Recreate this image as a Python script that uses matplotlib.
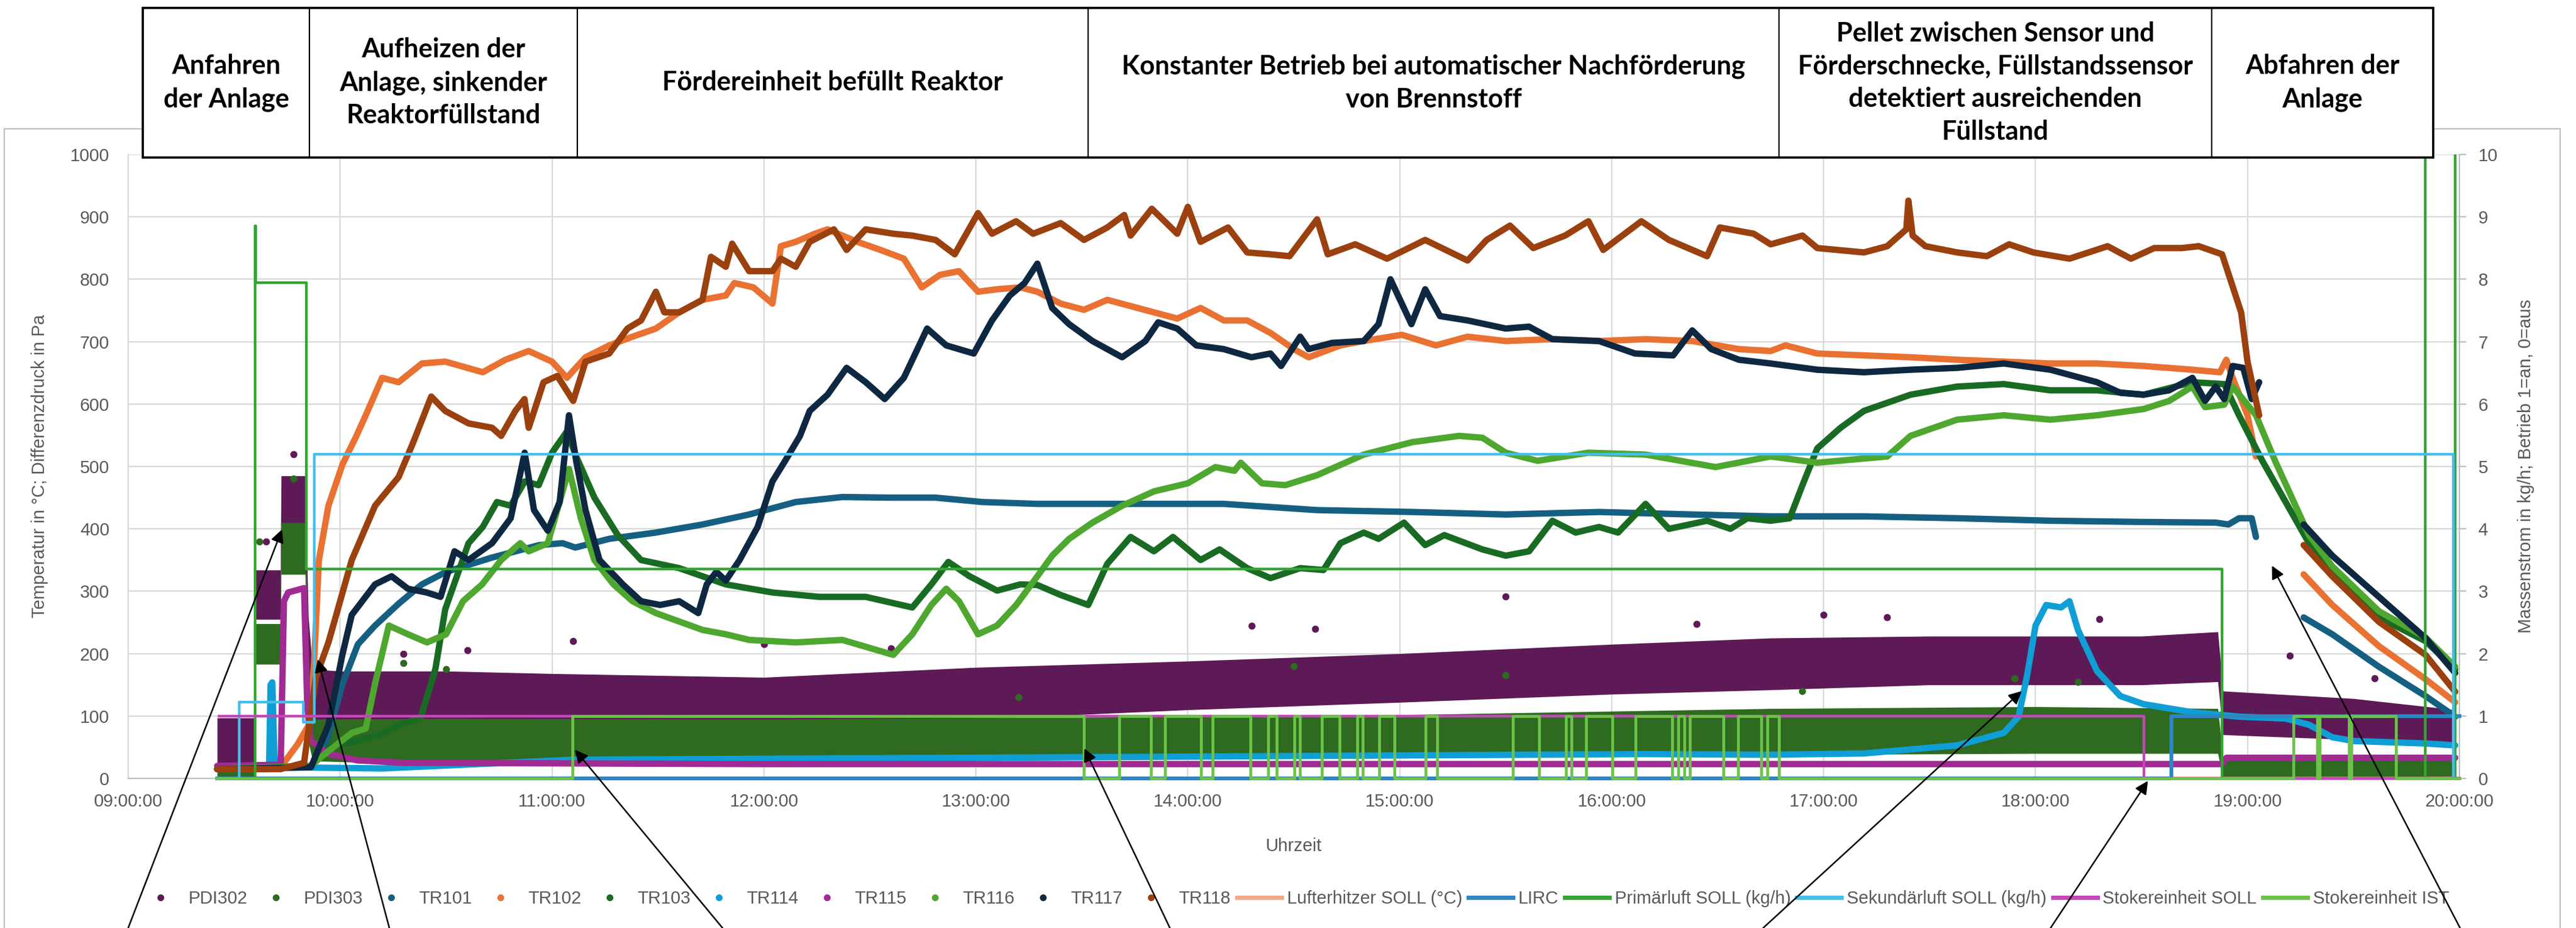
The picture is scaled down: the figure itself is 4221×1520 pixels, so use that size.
import numpy as np
import matplotlib
matplotlib.use('Agg')
import matplotlib.pyplot as plt
import matplotlib.transforms as mtransforms
from matplotlib.lines import Line2D
from matplotlib.patches import Rectangle

plt.rcParams['font.family'] = ['Liberation Sans', 'DejaVu Sans']
nan = float('nan')

# ---- Daten (Uhrzeit in Stunden, Wert) ----
tr101 = [(9.42, 15), (9.86, 18), (9.937, 61), (10.01, 150), (10.084, 215), (10.165, 245), (10.276, 280),
         (10.386, 311), (10.5, 331), (10.717, 354), (10.94, 374), (11.05, 377), (11.11, 370), (11.27, 384),
         (11.49, 394), (11.71, 407), (11.93, 423), (12.15, 443), (12.37, 451), (12.59, 450), (12.81, 450),
         (13.03, 443), (13.29, 440), (13.73, 440), (14.17, 440), (14.61, 430), (15.06, 427), (15.5, 423),
         (15.94, 427), (16.38, 423), (16.75, 420), (17.19, 420), (17.63, 417), (18.07, 413), (18.51, 411),
         (18.85, 410), (18.91, 407), (18.96, 417), (19.02, 417), (19.04, 387), (19.16, nan),
         (19.265, 258), (19.4, 231), (19.62, 179), (19.84, 132), (19.98, 99)]

tr102 = [(9.72, 18), (9.8, 55), (9.86, 90), (9.878, 190), (9.9, 350), (9.945, 437), (10.011, 503),
         (10.077, 549), (10.121, 582), (10.198, 642), (10.276, 635), (10.386, 665), (10.496, 668),
         (10.673, 651), (10.78, 671), (10.89, 685), (11.0, 668), (11.07, 642), (11.158, 675), (11.27, 694),
         (11.38, 708), (11.49, 721), (11.6, 747), (11.71, 767), (11.82, 774), (11.86, 794), (11.95, 787),
         (12.04, 761), (12.08, 853), (12.15, 860), (12.24, 873), (12.3, 880), (12.44, 860), (12.55, 847),
         (12.66, 833), (12.745, 787), (12.83, 807), (12.92, 813), (13.01, 780), (13.1, 784), (13.21, 787),
         (13.29, 780), (13.4, 761), (13.51, 751), (13.62, 767), (13.73, 757), (13.84, 747), (13.95, 737),
         (14.06, 754), (14.17, 734), (14.28, 734), (14.39, 714), (14.5, 688), (14.57, 675), (14.72, 694),
         (14.83, 701), (15.01, 711), (15.17, 694), (15.32, 708), (15.5, 701), (15.72, 704), (15.94, 701),
         (16.16, 704), (16.38, 701), (16.6, 688), (16.75, 685), (16.82, 694), (16.97, 681), (17.19, 678),
         (17.41, 675), (17.63, 671), (17.85, 668), (18.07, 665), (18.29, 665), (18.51, 661), (18.74, 655),
         (18.87, 651), (18.9, 671), (18.93, 642), (19.0, 582), (19.04, 516), (19.16, nan),
         (19.265, 327), (19.4, 278), (19.62, 212), (19.84, 159), (19.98, 122)]

tr103 = [(9.42, 15), (9.86, 20), (9.95, 50), (10.1, 62), (10.2, 72), (10.3, 88), (10.38, 97), (10.45, 176),
         (10.496, 271), (10.606, 377), (10.673, 403), (10.74, 443), (10.805, 437), (10.871, 476),
         (10.937, 470), (11.0, 522), (11.07, 556), (11.114, 516), (11.2, 450), (11.31, 390), (11.42, 350),
         (11.6, 337), (11.71, 324), (11.82, 311), (12.04, 298), (12.26, 291), (12.48, 291), (12.7, 274),
         (12.79, 311), (12.87, 347), (12.97, 324), (13.1, 301), (13.21, 311), (13.29, 310), (13.4, 294),
         (13.53, 278), (13.62, 344), (13.73, 387), (13.84, 364), (13.93, 387), (14.06, 350), (14.15, 367),
         (14.28, 337), (14.39, 321), (14.53, 337), (14.64, 334), (14.72, 377), (14.83, 394), (14.9, 384),
         (15.02, 410), (15.12, 374), (15.21, 390), (15.39, 367), (15.5, 357), (15.61, 364), (15.72, 413),
         (15.83, 394), (15.94, 403), (16.03, 394), (16.16, 440), (16.27, 400), (16.45, 413), (16.56, 400),
         (16.64, 417), (16.75, 413), (16.84, 417), (16.9, 470), (16.97, 529), (17.08, 562), (17.19, 589),
         (17.3, 602), (17.41, 615), (17.63, 628), (17.85, 632), (18.07, 622), (18.29, 622), (18.51, 615),
         (18.74, 635), (18.89, 632), (18.96, 582), (19.07, 509), (19.18, 443), (19.29, 377), (19.4, 331),
         (19.62, 258), (19.84, 220), (19.98, 175)]

tr114 = [(9.42, 15), (9.665, 15), (9.672, 150), (9.68, 154), (9.69, 35), (9.70, 18), (10.2, 16), (11.1, 30),
         (13.5, 34), (16.15, 39), (16.75, 38), (17.19, 40), (17.63, 53), (17.85, 73), (17.92, 99),
         (17.96, 165), (18.0, 245), (18.05, 278), (18.12, 274), (18.16, 284), (18.2, 238), (18.29, 172),
         (18.4, 132), (18.51, 119), (18.74, 106), (18.96, 99), (19.18, 96), (19.29, 86), (19.4, 66),
         (19.5, 60), (19.84, 56), (19.98, 53)]

tr115 = [(9.42, 20), (9.72, 22), (9.735, 284), (9.755, 298), (9.83, 305), (9.845, 118), (9.86, 61),
         (9.94, 40), (10.08, 29), (10.3, 25), (12.0, 23), (18.88, 23), (18.9, 33), (19.98, 33)]

tr116 = [(9.42, 15), (9.86, 20), (9.95, 45), (10.055, 73), (10.121, 80), (10.165, 152), (10.23, 245),
         (10.32, 231), (10.41, 218), (10.5, 231), (10.58, 284), (10.67, 311), (10.76, 350), (10.85, 377),
         (10.89, 364), (10.98, 377), (11.08, 496), (11.136, 417), (11.2, 350), (11.29, 311), (11.38, 284),
         (11.49, 265), (11.71, 238), (11.82, 231), (11.93, 222), (12.15, 218), (12.37, 222), (12.61, 198),
         (12.7, 231), (12.79, 278), (12.86, 304), (12.92, 284), (13.01, 231), (13.1, 245), (13.19, 278),
         (13.29, 324), (13.36, 357), (13.44, 384), (13.55, 410), (13.69, 437), (13.84, 460), (14.0, 473),
         (14.13, 499), (14.22, 493), (14.25, 506), (14.35, 473), (14.46, 470), (14.61, 486), (14.83, 519),
         (15.06, 539), (15.28, 549), (15.39, 546), (15.5, 522), (15.65, 509), (15.89, 522), (16.16, 519),
         (16.49, 499), (16.75, 516), (16.97, 506), (17.3, 516), (17.41, 549), (17.63, 575), (17.85, 582),
         (18.07, 575), (18.29, 582), (18.51, 592), (18.63, 605), (18.74, 628), (18.8, 595), (18.89, 599),
         (18.93, 628), (19.04, 582), (19.13, 509), (19.29, 390), (19.4, 340), (19.62, 268), (19.84, 226),
         (19.98, 179)]

tr117 = [(9.42, 15), (9.863, 18), (9.945, 86), (10.01, 197), (10.055, 262), (10.165, 311), (10.243, 324),
         (10.32, 304), (10.408, 298), (10.474, 291), (10.54, 364), (10.606, 350), (10.717, 377),
         (10.805, 417), (10.871, 522), (10.915, 430), (10.98, 397), (11.036, 443), (11.08, 582),
         (11.114, 509), (11.158, 430), (11.224, 350), (11.334, 311), (11.42, 284), (11.51, 278), (11.6, 284),
         (11.69, 265), (11.73, 311), (11.775, 331), (11.82, 317), (11.885, 350), (11.97, 403), (12.04, 476),
         (12.1, 509), (12.17, 549), (12.216, 589), (12.3, 615), (12.39, 658), (12.48, 635), (12.57, 608),
         (12.66, 642), (12.77, 721), (12.86, 694), (12.99, 681), (13.076, 734), (13.16, 774), (13.23, 794),
         (13.29, 825), (13.36, 754), (13.44, 728), (13.55, 701), (13.69, 675), (13.8, 701), (13.86, 731),
         (13.95, 721), (14.04, 694), (14.17, 688), (14.3, 675), (14.39, 681), (14.44, 661), (14.53, 708),
         (14.57, 688), (14.68, 698), (14.83, 701), (14.9, 728), (14.956, 800), (15.055, 728), (15.12, 784),
         (15.19, 741), (15.32, 734), (15.5, 721), (15.61, 724), (15.72, 704), (15.94, 701), (16.11, 681),
         (16.29, 678), (16.38, 718), (16.47, 688), (16.6, 671), (16.75, 665), (16.97, 655), (17.19, 651),
         (17.41, 655), (17.63, 658), (17.85, 665), (18.07, 655), (18.29, 635), (18.4, 618), (18.51, 615),
         (18.63, 622), (18.74, 642), (18.8, 605), (18.85, 628), (18.89, 608), (18.93, 661), (18.98, 658),
         (19.02, 608), (19.055, 635), (19.16, nan), (19.265, 407), (19.4, 357), (19.62, 291), (19.84, 225),
         (19.98, 169)]

tr118 = [(9.42, 15), (9.72, 15), (9.83, 25), (9.86, 100), (9.885, 161), (9.945, 218), (10.055, 350),
         (10.165, 437), (10.276, 483), (10.342, 536), (10.43, 612), (10.496, 589), (10.606, 569),
         (10.717, 562), (10.76, 549), (10.827, 589), (10.87, 608), (10.89, 562), (10.96, 635), (11.025, 645),
         (11.1, 605), (11.158, 668), (11.27, 681), (11.356, 721), (11.42, 734), (11.49, 780), (11.53, 747),
         (11.6, 747), (11.71, 767), (11.75, 836), (11.82, 820), (11.85, 857), (11.93, 813), (12.04, 813),
         (12.08, 833), (12.15, 820), (12.216, 860), (12.33, 880), (12.39, 847), (12.48, 880), (12.61, 873),
         (12.7, 870), (12.81, 863), (12.9, 840), (13.01, 906), (13.076, 873), (13.19, 893), (13.27, 873),
         (13.4, 890), (13.51, 863), (13.62, 883), (13.7, 903), (13.73, 870), (13.83, 913), (13.95, 873),
         (14.0, 916), (14.06, 860), (14.19, 883), (14.28, 843), (14.39, 840), (14.48, 837), (14.61, 896),
         (14.66, 840), (14.79, 856), (14.94, 833), (15.12, 863), (15.32, 830), (15.41, 863), (15.52, 886),
         (15.63, 850), (15.78, 870), (15.89, 893), (15.96, 847), (16.14, 893), (16.27, 863), (16.45, 837),
         (16.51, 883), (16.67, 873), (16.75, 856), (16.9, 870), (16.97, 850), (17.19, 843), (17.3, 853),
         (17.39, 880), (17.4, 926), (17.42, 870), (17.48, 853), (17.63, 843), (17.77, 837), (17.875, 856),
         (17.99, 843), (18.16, 833), (18.34, 853), (18.45, 833), (18.56, 850), (18.69, 850), (18.77, 853),
         (18.88, 840), (18.97, 747), (19.0, 668), (19.055, 582), (19.16, nan), (19.265, 374), (19.4, 324),
         (19.62, 251), (19.84, 198), (19.98, 139)]

# Differenzdruck-Punktwolken: (Uhrzeit, untere Grenze, obere Grenze)
pdi302_band = [(9.42, 18, 97), (9.598, 18, 97), (9.602, 255, 334), (9.718, 255, 334), (9.722, 405, 485),
               (9.835, 405, 485), (9.85, 150, 260), (9.87, 90, 175), (10.0, 68, 172), (10.5, 73, 172),
               (11.0, 72, 168), (12.0, 68, 162), (13.0, 95, 178), (14.0, 110, 188), (15.0, 122, 200),
               (16.0, 135, 215), (16.75, 142, 225), (17.5, 150, 228), (18.5, 150, 228), (18.86, 155, 235),
               (18.885, 70, 140), (19.5, 62, 128), (19.98, 55, 110)]
pdi303_band = [(9.42, 0, 22), (9.598, 0, 22), (9.602, 183, 248), (9.718, 183, 248), (9.722, 327, 410),
               (9.835, 327, 410), (9.85, 60, 200), (9.87, 28, 95), (10.5, 22, 96), (12.0, 25, 95),
               (13.5, 30, 98), (15.0, 33, 102), (16.75, 38, 112), (18.0, 40, 115), (18.86, 40, 112),
               (18.885, 0, 32), (19.98, 0, 32)]
pdi302_out = [(9.65, 380), (9.78, 520), (10.3, 200), (10.6, 205), (11.1, 220), (12.0, 215), (12.6, 208),
              (14.3, 245), (14.6, 240), (15.5, 292), (16.4, 248), (17.0, 262), (17.3, 258), (18.3, 255),
              (19.2, 197), (19.6, 160)]
pdi303_out = [(9.62, 380), (9.78, 480), (10.3, 185), (10.5, 175), (14.5, 180), (15.5, 165), (17.9, 160),
              (18.2, 155), (16.9, 140), (13.2, 130)]

# Sollwerte / Betriebszustände (rechte Achse), Schaltzeitpunkte
lufterhitzer_soll = [(9.42, 0), (20.0, 0)]
lirc = [(9.42, 0), (18.64, 1), (20.0, 1)]
primaerluft_soll = [(9.42, 0), (9.60, 8.86), (9.603, 7.95), (9.842, 3.36), (18.88, 0), (19.84, 15),
                    (19.98, 0), (20.0, 0)]
sekundaerluft_soll = [(9.42, 0), (9.524, 1.22), (9.826, 0.9), (9.878, 5.2), (19.97, 0), (20.0, 0)]
stoker_soll = [(9.43, 1), (18.51, 0), (20.0, 0)]
stoker_ist = [(9.42, 0), (11.096, 1), (13.51, 0), (13.676, 1), (13.827, 0), (13.891, 1), (14.062, 0),
              (14.117, 1), (14.296, 0), (14.378, 1), (14.42, 0), (14.502, 1), (14.53, 0), (14.632, 1),
              (14.715, 0), (14.8, 1), (14.825, 0), (14.904, 1), (14.976, 0), (15.122, 1), (15.177, 0),
              (15.535, 1), (15.659, 0), (15.783, 1), (15.811, 0), (15.88, 1), (16.004, 0), (16.114, 1),
              (16.285, 0), (16.315, 1), (16.343, 0), (16.37, 1), (16.527, 0), (16.596, 1), (16.706, 0),
              (16.734, 1), (16.79, 0), (19.216, 1), (19.33, 0), (19.34, 1), (19.48, 0), (19.49, 1),
              (19.70, 0), (20.0, 0)]

# Phasen (Kopfzeile): Grenzen in Stunden
phase_bounds = [9.07, 9.855, 11.12, 13.53, 16.79, 18.83, 19.875]
phase_texts = ['Anfahren\nder Anlage',
               'Aufheizen der\nAnlage, sinkender\nReaktorfüllstand',
               'Fördereinheit befüllt Reaktor',
               'Konstanter Betrieb bei automatischer Nachförderung\nvon Brennstoff',
               'Pellet zwischen Sensor und\nFörderschnecke, Füllstandssensor\ndetektiert ausreichenden\nFüllstand',
               'Abfahren der\nAnlage']

# Pfeile: Ziel (Uhrzeit, Wert linke Achse), Start am unteren Bildrand (x in Pixel)
arrow_targets = [(9.726, 399), (9.895, 191), (11.108, 46), (13.512, 48), (17.935, 140), (18.53, -4),
                 (19.115, 341)]
arrow_starts_px = [210, 638, 1184, 1917, 2889, 3360, 4031]

hours = list(range(9, 21))

colors = {
    'PDI302': '#5D1A57', 'PDI303': '#2E6A1F', 'TR101': '#156082', 'TR102': '#E97132',
    'TR103': '#196B24', 'TR114': '#0F9ED5', 'TR115': '#A02B93', 'TR116': '#4EA72E',
    'TR117': '#0E2841', 'TR118': '#9B400F',
    'Lufterhitzer SOLL (°C)': '#F1A983', 'LIRC': '#2E86C1', 'Primärluft SOLL (kg/h)': '#33A532',
    'Sekundärluft SOLL (kg/h)': '#44BFEC', 'Stokereinheit SOLL': '#C546B9', 'Stokereinheit IST': '#6CC24A',
}


def cols(pairs):
    a = np.array(pairs, dtype=float)
    return [a[:, i] for i in range(a.shape[1])]


W, H = 4221, 1520
fig = plt.figure(figsize=(W / 100, H / 100), dpi=100)
ax = fig.add_axes([210 / W, 1 - 1275 / H, 3820 / W, 1022 / H])
ax2 = ax.twinx()

grey = '#595959'
ax.set_xlim(9, 20)
ax.set_ylim(0, 1000)
ax2.set_ylim(0, 10)
ax.set_xticks(hours)
ax.set_xticklabels([f'{h:02d}:00:00' for h in hours])
ax.set_yticks(range(0, 1001, 100))
ax2.set_yticks(range(0, 11))
ax.grid(True, color='#D9D9D9', lw=1.6)
ax.set_axisbelow(True)
for a in (ax, ax2):
    for s in ('top', 'left', 'right', 'bottom'):
        a.spines[s].set_visible(False)
ax.spines['bottom'].set_visible(True)
ax.spines['bottom'].set_color('#BFBFBF')
ax.spines['bottom'].set_linewidth(1.6)
ax.spines['left'].set_visible(True)
ax.spines['left'].set_color('#D9D9D9')
ax.spines['left'].set_linewidth(1.6)
ax2.spines['right'].set_visible(True)
ax2.spines['right'].set_color('#BFBFBF')
ax2.spines['right'].set_linewidth(1.6)
ax.tick_params(axis='x', length=0, pad=17, labelsize=21, labelcolor=grey)
ax.tick_params(axis='y', length=0, pad=22, labelsize=21, labelcolor=grey)
ax2.tick_params(axis='y', length=8, width=1.6, color='#BFBFBF', pad=14, labelsize=21, labelcolor=grey)

ax.set_xlabel('Uhrzeit', fontsize=21, color=grey)
ax.xaxis.set_label_coords(0.5, -0.095)
ax.set_ylabel('Temperatur in °C; Differenzdruck in Pa', fontsize=21, color=grey)
ax.yaxis.set_label_coords(-0.0343, 0.5)
ax2.set_ylabel('Massenstrom in kg/h; Betrieb 1=an, 0=aus', fontsize=21, color=grey, rotation=90)
ax2.yaxis.set_label_coords(1.0249, 0.5)

# Punktwolken
for name, band, out in (('PDI302', pdi302_band, pdi302_out), ('PDI303', pdi303_band, pdi303_out)):
    t, lo, hi = cols(band)
    ax.fill_between(t, lo, hi, color=colors[name], lw=0, zorder=2)
    ot, ov = cols(out)
    ax.scatter(ot, ov, s=70, color=colors[name], lw=0, zorder=2)

# Temperaturen
for name, data in (('TR101', tr101), ('TR102', tr102), ('TR103', tr103), ('TR114', tr114),
                   ('TR115', tr115), ('TR116', tr116), ('TR117', tr117), ('TR118', tr118)):
    t, v = cols(data)
    ax.plot(t, v, color=colors[name], lw=7.5, solid_capstyle='round', solid_joinstyle='round', zorder=3)

# Sollwerte auf rechter Achse
steps = [('Lufterhitzer SOLL (°C)', lufterhitzer_soll, 4.0, False),
         ('LIRC', lirc, 4.5, False),
         ('Primärluft SOLL (kg/h)', primaerluft_soll, 3.2, True),
         ('Sekundärluft SOLL (kg/h)', sekundaerluft_soll, 3.2, False),
         ('Stokereinheit SOLL', stoker_soll, 3.2, False),
         ('Stokereinheit IST', stoker_ist, 3.4, False)]
for name, data, lw, clip in steps:
    t, v = cols(data)
    ax2.plot(t, v, drawstyle='steps-post', color=colors[name], lw=lw, clip_on=clip, zorder=3)

# Legende
handles = []
for name in ['PDI302', 'PDI303', 'TR101', 'TR102', 'TR103', 'TR114', 'TR115', 'TR116', 'TR117', 'TR118']:
    handles.append(Line2D([], [], ls='none', marker='o', ms=7, color=colors[name], label=name))
for name, _, _, _ in steps:
    handles.append(Line2D([], [], color=colors[name], lw=5, label=name))
leg = ax2.legend(handles=handles, loc='center', bbox_to_anchor=(0.5, -0.1928), ncol=len(handles),
                 frameon=False, fontsize=21, handlelength=2.5, handletextpad=0.3, columnspacing=0.35,
                 borderaxespad=0)
for txt in leg.get_texts():
    txt.set_color(grey)

# Diagrammrahmen
fig.add_artist(Rectangle((7 / W, -0.01), (4195 - 7) / W, 0.01 + 1 - 211 / H, transform=fig.transFigure,
                         facecolor='none', edgecolor='#BFBFBF', lw=1.6, zorder=1))

# Kopfzeile mit Phasen
trans = mtransforms.blended_transform_factory(ax.transData, fig.transFigure)
y0, y1 = 1 - 258 / H, 1 - 12.7 / H
fig.add_artist(Rectangle((phase_bounds[0], y0), phase_bounds[-1] - phase_bounds[0], y1 - y0,
                         transform=trans, facecolor='white', edgecolor='black', lw=2.6, zorder=5))
for b in phase_bounds[1:-1]:
    fig.add_artist(Line2D([b, b], [y0, y1], transform=trans, color='black', lw=1.6, zorder=6))
for left, right, label in zip(phase_bounds[:-1], phase_bounds[1:], phase_texts):
    fig.text((left + right) / 2, (y0 + y1) / 2, label, transform=trans, ha='center', va='center',
             fontsize=31, fontweight='bold', family=['Lato', 'DejaVu Sans'], linespacing=1.42, zorder=7)

# Pfeile
for (tx, tv), sx in zip(arrow_targets, arrow_starts_px):
    ax2.annotate('', xy=(tx, tv), xycoords=ax.transData, xytext=(sx, 0), textcoords='figure pixels',
                 arrowprops=dict(arrowstyle='-|>', color='black', lw=1.8, mutation_scale=32,
                                 shrinkA=0, shrinkB=0),
                 annotation_clip=False, zorder=10)

fig.savefig('out.png', dpi=100)
